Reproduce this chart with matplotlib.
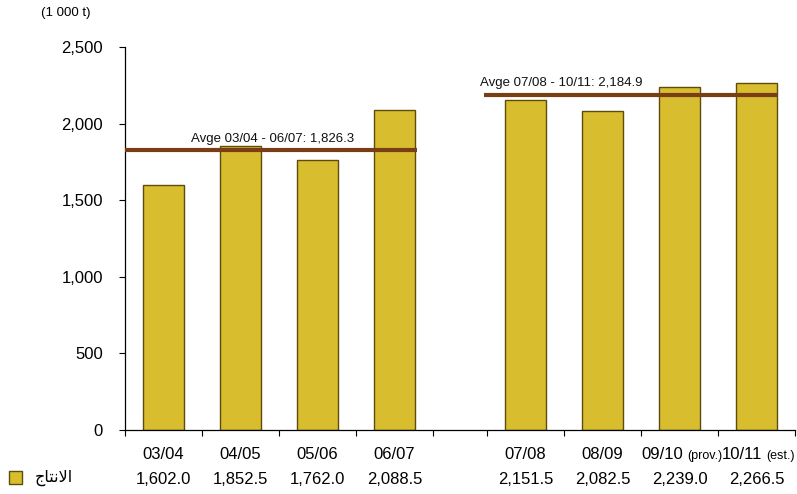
import matplotlib
matplotlib.use("Agg")
import matplotlib.pyplot as plt
from matplotlib.patches import Rectangle
import numpy as np

plt.rcParams['font.family'] = ['Liberation Sans', 'DejaVu Sans']

# Seasons, split into two periods
period1 = ["03/04", "04/05", "05/06", "06/07"]
period2 = ["07/08", "08/09", "09/10", "10/11"]
period2_notes = ["", "", "(prov.)", "(est.)"]
prod1 = [1602.0, 1852.5, 1762.0, 2088.5]
prod2 = [2151.5, 2082.5, 2239.0, 2266.5]
series_name = "\uFE9D\uFE8E\uFE98\uFEE7\uFEFB\uFE8D"  # الانتاج (shaped, visual order)
unit_label = "(1 000 t)"
y_ticks = [0, 500, 1000, 1500, 2000, 2500]

BAR = "#D8BE2F"
EDGE = "#5E4C0C"
AVG = "#7A3E17"


def round_half_up(v, nd=1):
    f = 10 ** nd
    return np.floor(v * f + 0.5) / f


gap = 0.7
bar_w = 0.53
x1 = np.arange(len(period1)) + 0.5
x2 = np.arange(len(period2)) + len(period1) + gap + 0.5
xmax = len(period1) + gap + len(period2)

fig = plt.figure(figsize=(7.97, 4.94), dpi=100)
ax = fig.add_axes([125 / 797, 64 / 494, 670 / 797, 383 / 494])

ax.bar(x1, prod1, width=bar_w, color=BAR, edgecolor=EDGE, linewidth=1.0, zorder=2)
ax.bar(x2, prod2, width=bar_w, color=BAR, edgecolor=EDGE, linewidth=1.0, zorder=2)

avg1 = float(np.mean(prod1))
avg2 = float(np.mean(prod2))
ax.hlines(avg1, 0, x1[-1] + bar_w / 2 + 0.03, color=AVG, lw=3, zorder=3)
ax.hlines(avg2, len(period1) + gap - 0.04, x2[-1] + bar_w / 2, color=AVG, lw=3, zorder=3)
ax.annotate(f"Avge {period1[0]} - {period1[-1]}: {round_half_up(avg1):,.1f}", (0.86, avg1),
            xytext=(0, 4), textcoords="offset points", ha="left", va="bottom",
            fontsize=9.5, color="#111111")
ax.annotate(f"Avge {period2[0]} - {period2[-1]}: {round_half_up(avg2):,.1f}",
            (len(period1) + gap - 0.09, avg2),
            xytext=(0, 4.5), textcoords="offset points", ha="left", va="bottom",
            fontsize=9.5, color="#111111")

ax.set_xlim(0, xmax)
ax.set_ylim(0, 2500)
ax.set_yticks(y_ticks)
ax.set_yticklabels([f"{v:,}" for v in y_ticks], fontsize=12)
bounds = list(np.arange(len(period1) + 1)) + list(np.arange(len(period2) + 1) + len(period1) + gap)
ax.set_xticks(bounds)
ax.set_xticklabels([])
ax.tick_params(axis="x", length=4.5, width=0.8, direction="out")
ax.tick_params(axis="y", length=4.3, width=0.8, direction="out", pad=11.5)
for s in ("top", "right"):
    ax.spines[s].set_visible(False)
for s in ("left", "bottom"):
    ax.spines[s].set_linewidth(0.9)

# Data table beneath the axis: season labels on a shared baseline, values below
tr = ax.get_xaxis_transform()
label_base = -0.077
note_shift = {"(prov.)": -12.6, "(est.)": -10.8}
for x, lab, v in zip(x1, period1, prod1):
    ax.text(x, label_base, lab, transform=tr, ha="center", va="baseline", fontsize=12)
    ax.text(x, -0.128, f"{v:,.1f}", transform=tr, ha="center", va="center", fontsize=12)
for x, lab, note, v in zip(x2, period2, period2_notes, prod2):
    if note:
        t = ax.annotate(lab, (x, label_base), xycoords=tr, xytext=(note_shift[note], 0),
                        textcoords="offset points", ha="center", va="baseline", fontsize=12)
        ax.annotate(note, (1, label_base), xycoords=(t, tr), xytext=(3, 0),
                    textcoords="offset points", ha="left", va="baseline", fontsize=9,
                    annotation_clip=False)
    else:
        ax.text(x, label_base, lab, transform=tr, ha="center", va="baseline", fontsize=12)
    ax.text(x, -0.128, f"{v:,.1f}", transform=tr, ha="center", va="center", fontsize=12)

# Legend key
fig.patches.append(Rectangle((9 / 797, (494 - 484) / 494), 13 / 797, 13 / 494,
                             transform=fig.transFigure, facecolor=BAR, edgecolor=EDGE, lw=1.0))
fig.text(35 / 797, (494 - 478) / 494, series_name, ha="left", va="center", fontsize=11.5,
         family=["DejaVu Sans"])

fig.text(66 / 797, (494 - 13) / 494, unit_label, ha="center", va="center", fontsize=9.5)

fig.savefig("out.png", dpi=100)
